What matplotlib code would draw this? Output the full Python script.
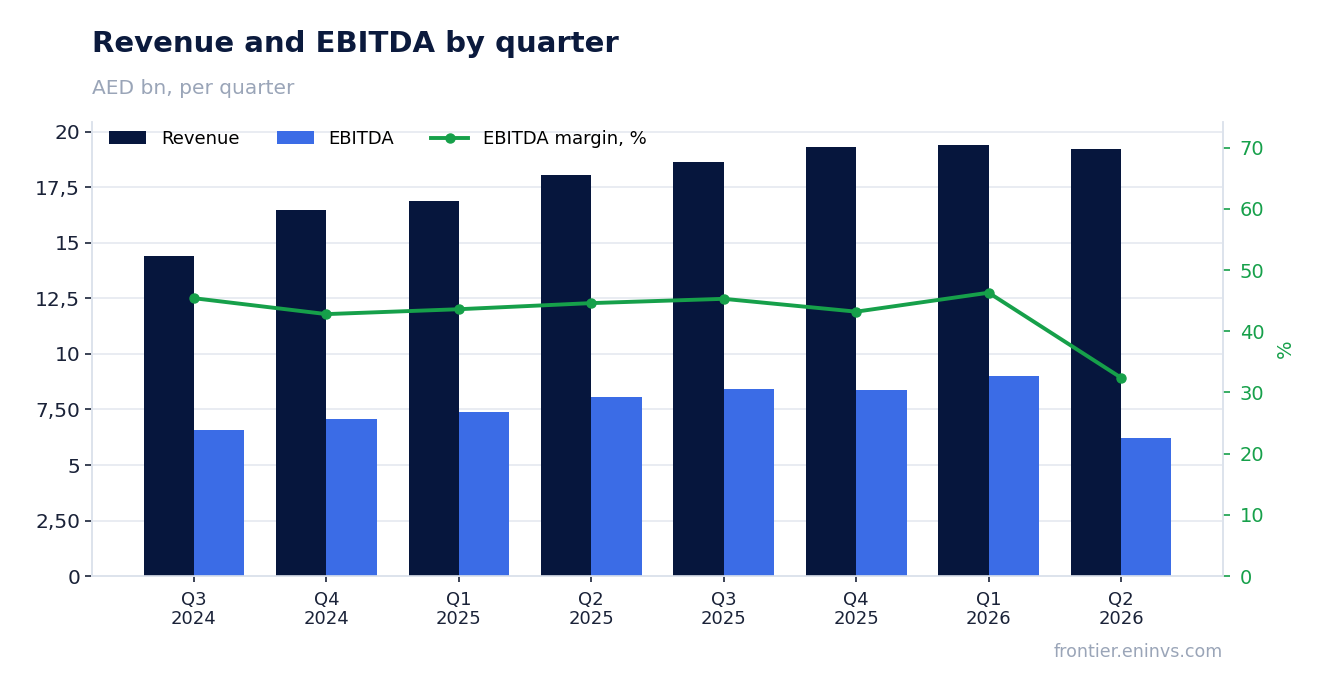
import matplotlib.pyplot as plt
import numpy as np

QUARTERS = ["Q3\n2024", "Q4\n2024", "Q1\n2025", "Q2\n2025",
            "Q3\n2025", "Q4\n2025", "Q1\n2026", "Q2\n2026"]
REVENUE = [14.41, 16.49, 16.89, 18.06, 18.65, 19.32, 19.41, 19.23]
EBITDA = [6.58, 7.07, 7.39, 8.06, 8.42, 8.38, 9.01, 6.22]
MARGIN = [45.4, 42.8, 43.6, 44.6, 45.3, 43.2, 46.3, 32.4]

LEFT_TICKS = [0, 2.5, 5, 7.5, 10, 12.5, 15, 17.5, 20]
LEFT_LABELS = ["0", "2,50", "5", "7,50", "10", "12,5", "15", "17,5", "20"]
RIGHT_TICKS = [0, 10, 20, 30, 40, 50, 60, 70]

NAVY = "#06163d"
BLUE = "#3b6ce6"
GREEN = "#16a04a"
GRID = "#e5e9f0"
SPINE = "#dde3ec"
GRAY = "#9aa5b8"

fig = plt.figure(figsize=(13.23, 6.93), dpi=100)
ax = fig.add_axes([0.0695, 0.1688, 0.855, 0.6552])
ax2 = ax.twinx()

x = np.arange(len(QUARTERS))
w = 0.38
ax.bar(x - w / 2, REVENUE, w, color=NAVY, label="Revenue", zorder=3)
ax.bar(x + w / 2, EBITDA, w, color=BLUE, label="EBITDA", zorder=3)
ax2.plot(x, MARGIN, color=GREEN, lw=2.8, marker="o", ms=6.5,
         label="EBITDA margin, %", zorder=4)

ax.set_xlim(-0.77, 7.77)
ax.set_ylim(0, 20.45)
ax2.set_ylim(0, 74.2)

ax.set_yticks(LEFT_TICKS)
ax.set_yticklabels(LEFT_LABELS)
ax.set_xticks(x)
ax.set_xticklabels(QUARTERS, linespacing=1.05)
ax2.set_yticks(RIGHT_TICKS)

ax.grid(axis="y", color=GRID, lw=1.2, zorder=0)
ax.set_axisbelow(True)

for a in (ax, ax2):
    a.spines["top"].set_visible(False)
    for s in ("left", "right", "bottom"):
        a.spines[s].set_color(SPINE)
        a.spines[s].set_linewidth(1.2)

ax.tick_params(axis="y", labelsize=14.5, colors="#1a2238", length=5, width=1.2)
ax.tick_params(axis="x", labelsize=13, colors="#1a2238", length=4, width=1.2, pad=7)
ax2.tick_params(axis="y", labelsize=14, colors=GREEN, length=5, width=1.2, pad=7)
ax2.set_ylabel("%", color=GREEN, fontsize=14, labelpad=8)

h1, l1 = ax.get_legend_handles_labels()
h2, l2 = ax2.get_legend_handles_labels()
ax.legend(h1 + h2, l1 + l2, loc="upper left", ncol=3, frameon=False,
          fontsize=13, bbox_to_anchor=(0.001, 1.018), columnspacing=2.05,
          handlelength=2.05, handletextpad=0.82)

fig.text(0.0695, 0.936, "Revenue and EBITDA by quarter", fontsize=21,
         fontweight="bold", color="#0b1a3d", ha="left", va="center")
fig.text(0.0695, 0.873, "AED bn, per quarter", fontsize=14.5, color=GRAY,
         ha="left", va="center")
fig.text(0.9244, 0.059, "frontier.eninvs.com", fontsize=12.6, color=GRAY,
         ha="right", va="center")

fig.savefig("out.png", dpi=100)
